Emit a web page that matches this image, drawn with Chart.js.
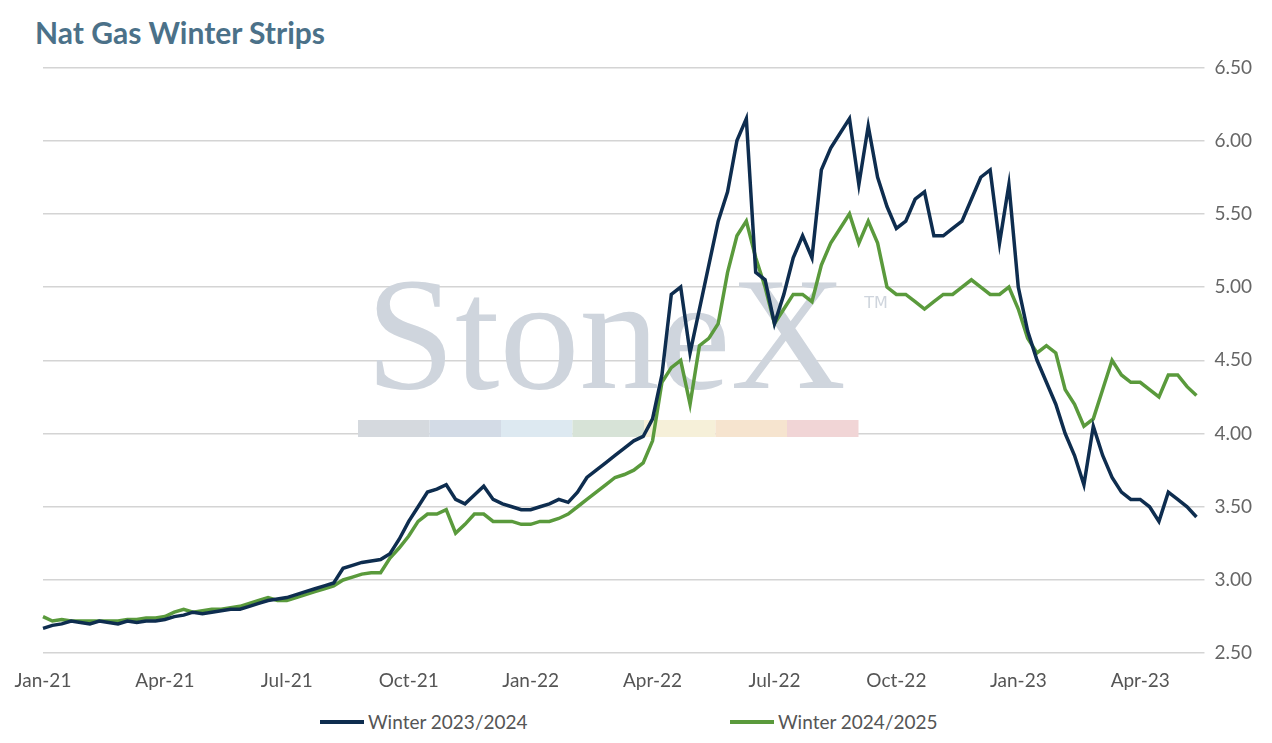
<!DOCTYPE html>
<html>
<head>
<meta charset="utf-8">
<script src="https://cdn.jsdelivr.net/npm/chart.js@4"></script>
<style>
  body { margin: 0; background: #fff; }
  #wrap { width: 1272px; height: 743px; position: relative; }
  #title { position: absolute; left: 35px; top: 14px; font: bold 30px Lato, sans-serif; color: #4b7189; }
  .leg { position: absolute; top: 710px; font: 19px Lato, sans-serif; color: #555; display: flex; align-items: center; }
  .leg i { display: inline-block; width: 44px; height: 4px; margin-right: 4px; }
</style>
</head>
<body>
<div id="wrap">
  <div id="title">Nat Gas Winter Strips</div>
  <div style="position:absolute;left:0;top:46px;width:1272px;height:654px"><canvas id="c"></canvas></div>
  <div class="leg" style="left:320px"><i style="background:#0e2d4f"></i>Winter 2023/2024</div>
  <div class="leg" style="left:730px"><i style="background:#5a9a3c"></i>Winter 2024/2025</div>
</div>
<script>
// weekly points, Jan-2021 .. early May-2023
const quarterLabels = ['Jan-21','Apr-21','Jul-21','Oct-21','Jan-22','Apr-22','Jul-22','Oct-22','Jan-23','Apr-23'];
const yTicks = [2.5, 3.0, 3.5, 4.0, 4.5, 5.0, 5.5, 6.0, 6.5];

const winter2324 = [
  2.67,2.69,2.70,2.72,2.71,2.70,2.72,2.71,2.70,2.72,2.71,2.72,2.72,
  2.73,2.75,2.76,2.78,2.77,2.78,2.79,2.80,2.80,2.82,2.84,2.86,2.87,
  2.88,2.90,2.92,2.94,2.96,2.98,3.08,3.10,3.12,3.13,3.14,3.18,3.28,
  3.40,3.50,3.60,3.62,3.65,3.55,3.52,3.58,3.64,3.55,3.52,3.50,3.48,
  3.48,3.50,3.52,3.55,3.53,3.60,3.70,3.75,3.80,3.85,3.90,3.95,3.98,
  4.10,4.40,4.95,5.00,4.55,4.85,5.15,5.45,5.65,6.00,6.15,5.10,5.05,
  4.75,4.95,5.20,5.35,5.20,5.80,5.95,6.05,6.15,5.70,6.10,5.75,5.55,
  5.40,5.45,5.60,5.65,5.35,5.35,5.40,5.45,5.60,5.75,5.80,5.30,5.70,
  5.00,4.70,4.50,4.35,4.20,4.00,3.85,3.65,4.05,3.85,3.70,3.60,3.55,
  3.55,3.50,3.40,3.60,3.55,3.50,3.43
];
const winter2425 = [
  2.75,2.72,2.73,2.72,2.72,2.72,2.72,2.72,2.72,2.73,2.73,2.74,2.74,
  2.75,2.78,2.80,2.78,2.79,2.80,2.80,2.81,2.82,2.84,2.86,2.88,2.86,
  2.86,2.88,2.90,2.92,2.94,2.96,3.00,3.02,3.04,3.05,3.05,3.15,3.22,
  3.30,3.40,3.45,3.45,3.48,3.32,3.38,3.45,3.45,3.40,3.40,3.40,3.38,
  3.38,3.40,3.40,3.42,3.45,3.50,3.55,3.60,3.65,3.70,3.72,3.75,3.80,
  3.95,4.35,4.45,4.50,4.20,4.60,4.65,4.75,5.10,5.35,5.45,5.20,5.00,
  4.75,4.85,4.95,4.95,4.90,5.15,5.30,5.40,5.50,5.30,5.45,5.30,5.00,
  4.95,4.95,4.90,4.85,4.90,4.95,4.95,5.00,5.05,5.00,4.95,4.95,5.00,
  4.85,4.65,4.55,4.60,4.55,4.30,4.20,4.05,4.10,4.30,4.50,4.40,4.35,
  4.35,4.30,4.25,4.40,4.40,4.32,4.26
];
const weeks = winter2324.map((_, i) => i);

// faint watermark behind the lines (canvas is offset 46px down)
const watermark = {
  id: 'watermark',
  beforeDatasetsDraw(ch) {
    const c = ch.ctx;
    c.save();
    c.fillStyle = '#cfd5dd';
    c.font = '160px "Liberation Serif", serif';
    c.textAlign = 'center';
    c.fillText('StoneX', 606, 342);
    c.font = '16px "DejaVu Sans"';
    c.fillText('TM', 876, 262);
    const cols = ['#d5d9de','#d3dbe6','#dde9f1','#d7e3d7','#f6f0d9','#f6e4cf','#f1d5d6'];
    cols.forEach((col, k) => { c.fillStyle = col; c.fillRect(358 + k * 71.5, 374, 71.5, 17); });
    c.restore();
  }
};

new Chart(document.getElementById('c'), {
  type: 'line',
  data: {
    labels: weeks,
    datasets: [
      { label: 'Winter 2023/2024', data: winter2324, borderColor: '#0e2d4f', borderWidth: 3.5, pointRadius: 0, tension: 0 },
      { label: 'Winter 2024/2025', data: winter2425, borderColor: '#5a9a3c', borderWidth: 3.5, pointRadius: 0, tension: 0 }
    ]
  },
  options: {
    responsive: true,
    maintainAspectRatio: false,
    animation: false,
    layout: { padding: { left: 43, right: 10, top: 7, bottom: 0 } },
    scales: {
      x: {
        grid: { display: false },
        border: { display: false },
        ticks: {
          autoSkip: false, maxRotation: 0, color: '#555', font: { family: 'Lato', size: 19 }, padding: 8,
          callback: (v, i) => (i % 13 === 0 ? quarterLabels[i / 13] : null)
        }
      },
      y: {
        position: 'right',
        min: 2.5, max: 6.5,
        afterBuildTicks: ax => { ax.ticks = yTicks.map(v => ({ value: v })); },
        grid: { color: '#d4d4d4', lineWidth: 1.5 },
        border: { display: false },
        ticks: { color: '#666', font: { family: 'Lato', size: 19 }, padding: 10, callback: v => v.toFixed(2) }
      }
    },
    plugins: { legend: { display: false }, tooltip: { enabled: false } }
  },
  plugins: [watermark]
});
</script>
</body>
</html>
